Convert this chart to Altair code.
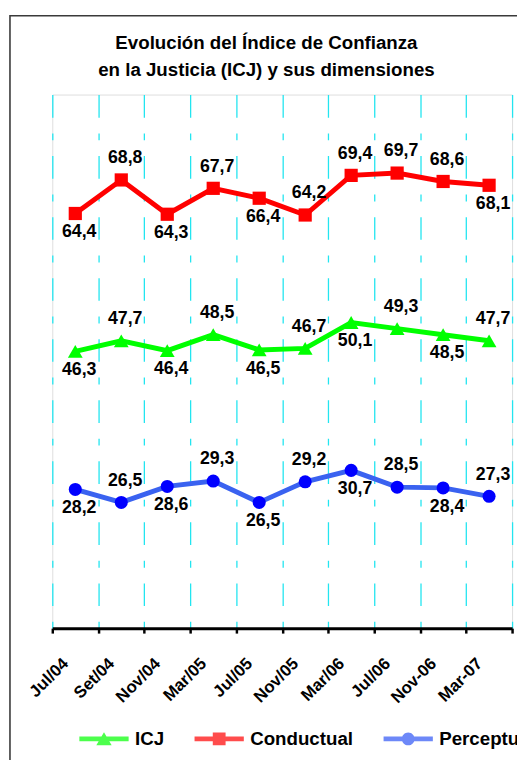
import altair as alt
import pandas as pd

# ---- data ----
meses = ["Jul/04", "Set/04", "Nov/04", "Mar/05", "Jul/05", "Nov/05",
         "Mar/06", "Jul/06", "Nov-06", "Mar-07"]
series = ["ICJ", "Conductual", "Perceptual"]
icj = [46.3, 47.7, 46.4, 48.5, 46.5, 46.7, 50.1, 49.3, 48.5, 47.7]
conductual = [64.4, 68.8, 64.3, 67.7, 66.4, 64.2, 69.4, 69.7, 68.6, 68.1]
perceptual = [28.2, 26.5, 28.6, 29.3, 26.5, 29.2, 30.7, 28.5, 28.4, 27.3]
# label side for each value: "a" above, "b" below
lado_icj = ["b", "a", "b", "a", "b", "a", "b", "a", "b", "a"]
lado_conductual = ["b", "a", "b", "a", "b", "a", "a", "a", "a", "b"]
lado_perceptual = ["b", "a", "b", "a", "b", "a", "b", "a", "b", "a"]

rows = []
for serie, vals, lados in [("ICJ", icj, lado_icj),
                           ("Conductual", conductual, lado_conductual),
                           ("Perceptual", perceptual, lado_perceptual)]:
    for m, v, l in zip(meses, vals, lados):
        rows.append({"mes": m, "serie": serie, "valor": v, "lado": l,
                     "etiqueta": f"{v:.1f}".replace(".", ",")})
df = pd.DataFrame(rows)

FONT = "Liberation Sans"
line_colors = {"ICJ": "#00FF00", "Conductual": "#FF0000", "Perceptual": "#3A62F0"}
marker_colors = {"ICJ": "#00FF00", "Conductual": "#FF0000", "Perceptual": "#0000FF"}
legend_colors = ["#00FF00", "#FF0000", "#2F55F5"]

# legend symbols: a thick line with the marker in the middle
bar = "M-3.85,-0.38L3.85,-0.38L3.85,0.38L-3.85,0.38Z"
legend_shapes = [
    bar + "M0,-1.05L1.2,1L-1.2,1Z",
    bar + "M-1,-1L1,-1L1,1L-1,1Z",
    bar + "M-1,0A1,1,0,1,1,1,0A1,1,0,1,1,-1,0Z",
]

x_enc = alt.X(
    "mes:N", sort=meses,
    scale=alt.Scale(type="band", paddingInner=0, paddingOuter=0),
    axis=alt.Axis(
        title=None, labelAngle=-45, labelAlign="right", labelBaseline="middle",
        labelFont=FONT, labelFontSize=17, labelFontWeight="bold", labelColor="black",
        labelPadding=28, labelOffset=-10,
        tickBand="extent", tickSize=5, tickWidth=2.5, tickColor="black",
        domainColor="black", domainWidth=3,
        grid=True, gridColor="#22E5F0", gridWidth=1.3, gridDash=[23, 16, 7, 16],
    ),
)
y_enc = alt.Y("valor:Q", scale=alt.Scale(domain=[10, 80], nice=False, zero=False), axis=None)

base = alt.Chart(df)

lines = [
    base.transform_filter(alt.datum.serie == s).mark_line(
        strokeWidth=5, color=line_colors[s]
    ).encode(x=x_enc, y=y_enc)
    for s in series
]

shape_map = {"ICJ": ("triangle-up", 225), "Conductual": ("square", 180), "Perceptual": ("circle", 175)}
points = [
    base.transform_filter(alt.datum.serie == s).mark_point(
        shape=shape_map[s][0], size=shape_map[s][1], filled=True,
        fill=marker_colors[s], opacity=1, strokeWidth=0,
    ).encode(x=x_enc, y=y_enc)
    for s in series
]

text_style = dict(font=FONT, fontSize=18, fontWeight="bold", color="black",
                  baseline="middle", align="center")
labels_above = base.transform_filter(alt.datum.lado == "a").mark_text(
    dy=-22, dx=4, **text_style).encode(x=x_enc, y=y_enc, text="etiqueta:N")
labels_below = base.transform_filter(alt.datum.lado == "b").mark_text(
    dy=19, dx=4, **text_style).encode(x=x_enc, y=y_enc, text="etiqueta:N")

leg = alt.Legend(title=None, orient="none", direction="horizontal",
                 legendX=43, legendY=645, gridAlign="none",
                 symbolSize=169, symbolStrokeWidth=0,
                 labelFont=FONT, labelFontSize=19,
                 labelFontWeight="bold", labelColor="black",
                 labelOffset=22, columnPadding=30, padding=0, labelLimit=300)

legend_layer = base.mark_point(filled=True, size=0).encode(
    x=x_enc, y=y_enc,
    color=alt.Color("serie:N", scale=alt.Scale(domain=series, range=legend_colors), legend=leg),
    shape=alt.Shape("serie:N", scale=alt.Scale(domain=series, range=legend_shapes), legend=leg),
)

frame = alt.Chart(alt.Data(values=[{}])).mark_rect(
    filled=False, stroke="#3a3a3a", strokeWidth=1.6
).encode(x=alt.value(-43), x2=alt.value(480), y=alt.value(-80), y2=alt.value(700))

chart = alt.layer(
    frame, *lines, *points, labels_above, labels_below, legend_layer
).properties(
    width=467, height=542,
    title=alt.TitleParams(
        text=["Evolución del Índice de Confianza", "en la Justicia (ICJ) y sus dimensiones"],
        font=FONT, fontSize=19, fontWeight="bold", color="black",
        anchor="middle", frame="group", dx=-16, offset=-85, lineHeight=27, baseline="bottom",
    ),
    autosize=alt.AutoSizeParams(type="none"),
    padding={"left": 45, "top": 82, "right": 5, "bottom": 130},
).configure_view(stroke=None).configure(background="white")

chart.save("out.html", embed_options={"renderer": "svg", "actions": False})
